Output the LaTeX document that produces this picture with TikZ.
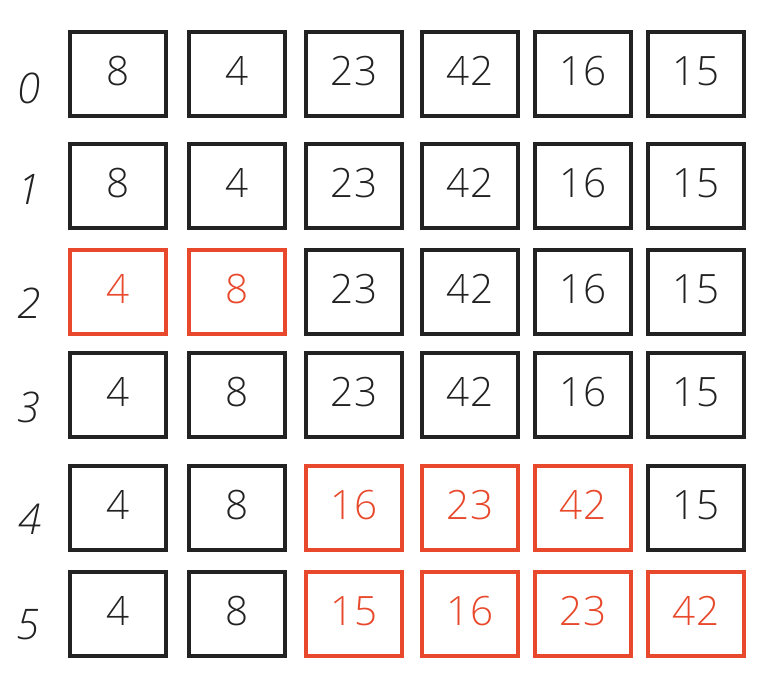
\documentclass[tikz,border=0pt]{standalone}
\usepackage{fontspec}
\usepackage{xcolor}
\usepackage{tikz}
\usetikzlibrary{positioning}
\newfontfamily\cellfont{Open Sans Light}
\definecolor{hotred}{HTML}{E8492C}
\definecolor{ink}{HTML}{222222}

\begin{document}
\begin{tikzpicture}[x=0.02cm,y=-0.02cm,
  every node/.style={inner sep=0pt},
  cell/.style={draw=ink,text=ink,line width=0.065cm,minimum width=1.92cm,minimum height=1.68cm,text depth=0.12cm,font=\cellfont\fontsize{23}{27}\selectfont},
  hot/.style={cell,draw=hotred,text=hotred},
  rowlabel/.style={text=ink,font=\cellfont\itshape\fontsize{24}{28}\selectfont}]
  \useasboundingbox (0,0) rectangle (783,677);

  % Row 0
  \node[cell] (r0c0) at (118,74) {8};
  \node[cell] (r0c1) at (237,74) {4};
  \node[cell] (r0c2) at (354,74) {23};
  \node[cell] (r0c3) at (470,74) {42};
  \node[cell] (r0c4) at (583,74) {16};
  \node[cell] (r0c5) at (696,74) {15};
  \node[rowlabel] (l0) at (29,88) {0};

  % Row 1
  \node[cell] (r1c0) at (118,186) {8};
  \node[cell] (r1c1) at (237,186) {4};
  \node[cell] (r1c2) at (354,186) {23};
  \node[cell] (r1c3) at (470,186) {42};
  \node[cell] (r1c4) at (583,186) {16};
  \node[cell] (r1c5) at (696,186) {15};
  \node[rowlabel] (l1) at (29,189) {1};

  % Row 2: first swap
  \node[hot] (r2c0) at (118,292) {4};
  \node[hot] (r2c1) at (237,292) {8};
  \node[cell] (r2c2) at (354,292) {23};
  \node[cell] (r2c3) at (470,292) {42};
  \node[cell] (r2c4) at (583,292) {16};
  \node[cell] (r2c5) at (696,292) {15};
  \node[rowlabel] (l2) at (29,303) {2};

  % Row 3
  \node[cell] (r3c0) at (118,395) {4};
  \node[cell] (r3c1) at (237,395) {8};
  \node[cell] (r3c2) at (354,395) {23};
  \node[cell] (r3c3) at (470,395) {42};
  \node[cell] (r3c4) at (583,395) {16};
  \node[cell] (r3c5) at (696,395) {15};
  \node[rowlabel] (l3) at (29,407) {3};

  % Row 4: 16 moved in
  \node[cell] (r4c0) at (118,508) {4};
  \node[cell] (r4c1) at (237,508) {8};
  \node[hot] (r4c2) at (354,508) {16};
  \node[hot] (r4c3) at (470,508) {23};
  \node[hot] (r4c4) at (583,508) {42};
  \node[cell] (r4c5) at (696,508) {15};
  \node[rowlabel] (l4) at (30,519) {4};

  % Row 5: 15 moved in
  \node[cell] (r5c0) at (118,614) {4};
  \node[cell] (r5c1) at (237,614) {8};
  \node[hot] (r5c2) at (354,614) {15};
  \node[hot] (r5c3) at (470,614) {16};
  \node[hot] (r5c4) at (583,614) {23};
  \node[hot] (r5c5) at (696,614) {42};
  \node[rowlabel] (l5) at (28,625) {5};
\end{tikzpicture}
\end{document}
